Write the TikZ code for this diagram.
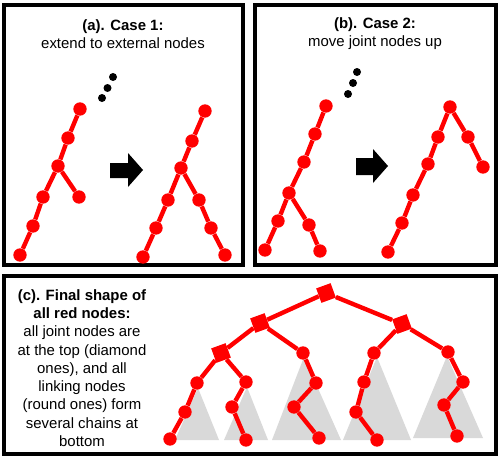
\documentclass[tikz,border=0pt]{standalone}
\usepackage{fontspec}
\setmainfont{Liberation Sans}
\begin{document}
\begin{tikzpicture}[x=0.75pt,y=-0.75pt,
  rn/.style={circle,fill=red,inner sep=0pt,minimum size=10pt},
  jn/.style={rectangle,fill=red,inner sep=0pt,minimum size=11.5pt,rotate=20},
  dotn/.style={circle,fill=black,inner sep=0pt,minimum size=6pt},
  ed/.style={red,line width=3.3pt},
  panel/.style={draw=black,line width=2.3pt},
  tri/.style={fill=black!15,draw=none},
  blk/.style={fill=black,draw=none},
  lab/.style={align=center,font=\fontsize{11.2pt}{13.7pt}\selectfont,inner sep=0pt}]
\useasboundingbox (0,0) rectangle (498,460);
\fill[white] (0,0) rectangle (498,460);
% panels
\draw[panel] (4,5) rectangle (243,265);
\draw[panel] (255,5) rectangle (496,265);
\draw[panel] (4,276) rectangle (496,454);
% titles
\node[lab] (ta) at (123,34) {\textbf{(a). Case 1:}\\extend to external nodes};
\node[lab] (tb) at (375,34) {\textbf{(b). Case 2:}\\move joint nodes up};
\node[lab] (tc) at (82,368) {\textbf{(c). Final shape of}\\\textbf{all red nodes:}\\all joint nodes are\\at the top (diamond\\ones), and all\\linking nodes\\(round ones) form\\several chains at\\bottom};
% dots
\node[dotn] (da1) at (113,77) {};
\node[dotn] (da2) at (107.5,88) {};
\node[dotn] (da3) at (102,98) {};
\node[dotn] (db1) at (357,72) {};
\node[dotn] (db2) at (353,83) {};
\node[dotn] (db3) at (348,94) {};
% block arrows
\fill[blk] (110,163) -- (128,163) -- (128,153) -- (143,170) -- (128,187) -- (128,178) -- (110,178) -- cycle;
\fill[blk] (356,158) -- (373,158) -- (373,149) -- (388,166) -- (373,183) -- (373,175) -- (356,175) -- cycle;
% triangles in panel c
\fill[tri] (198,388) -- (219,440) -- (175,440) -- cycle;
\fill[tri] (247,387) -- (268,440) -- (224,440) -- cycle;
\fill[tri] (304,357) -- (341,440) -- (272,440) -- cycle;
\fill[tri] (377,357) -- (411,440) -- (343,440) -- cycle;
\fill[tri] (447,356) -- (483,438) -- (413,438) -- cycle;
% panel a left tree
\node[rn] (a1) at (80,109) {};
\node[rn] (a2) at (68,138) {};
\node[rn] (a3) at (58,166) {};
\node[rn] (a4) at (43,197) {};
\node[rn] (a5) at (33,226) {};
\node[rn] (a6) at (20,255) {};
\node[rn] (a7) at (79,197) {};
\draw[ed] (a1) -- (a2) -- (a3) -- (a4) -- (a5) -- (a6);
\draw[ed] (a3) -- (a7);
% panel a right tree
\node[rn] (b1) at (205,111) {};
\node[rn] (b2) at (192,141) {};
\node[rn] (b3) at (181,168) {};
\node[rn] (b4) at (168,200) {};
\node[rn] (b5) at (156,228) {};
\node[rn] (b6) at (143,257) {};
\node[rn] (b7) at (199,200) {};
\node[rn] (b8) at (211,228) {};
\node[rn] (b9) at (225,255) {};
\draw[ed] (b1) -- (b2) -- (b3) -- (b4) -- (b5) -- (b6);
\draw[ed] (b3) -- (b7) -- (b8) -- (b9);
% panel b left tree
\node[rn] (c1) at (326,106) {};
\node[rn] (c2) at (315,134) {};
\node[rn] (c3) at (304,162) {};
\node[rn] (c4) at (289,193) {};
\node[rn] (c5) at (278,221) {};
\node[rn] (c6) at (265,250) {};
\node[rn] (c7) at (309,225) {};
\node[rn] (c8) at (320,251) {};
\draw[ed] (c1) -- (c2) -- (c3) -- (c4) -- (c5) -- (c6);
\draw[ed] (c4) -- (c7) -- (c8);
% panel b right tree
\node[rn] (d1) at (450,107) {};
\node[rn] (d2) at (438,137) {};
\node[rn] (d3) at (428,164) {};
\node[rn] (d4) at (413,195) {};
\node[rn] (d5) at (402,223) {};
\node[rn] (d6) at (388,252) {};
\node[rn] (d7) at (468,137) {};
\node[rn] (d8) at (483,167) {};
\draw[ed] (d1) -- (d2) -- (d3) -- (d4) -- (d5) -- (d6);
\draw[ed] (d1) -- (d7) -- (d8);
% panel c tree
\node[jn] (r) at (326,293) {};
\node[jn] (l1) at (260,323) {};
\node[jn] (r1) at (402,324) {};
\node[jn] (l2) at (221,353) {};
\node[rn] (m1) at (303,353) {};
\node[rn] (p1) at (197,383) {};
\node[rn] (p2) at (185,412) {};
\node[rn] (p3) at (170,439) {};
\node[rn] (q1) at (246,382) {};
\node[rn] (q2) at (232,407) {};
\node[rn] (q3) at (246,440) {};
\node[rn] (m2) at (316,383) {};
\node[rn] (m3) at (294,407) {};
\node[rn] (m4) at (319,438) {};
\node[rn] (s1) at (374,353) {};
\node[rn] (s2) at (364,382) {};
\node[rn] (s3) at (356,412) {};
\node[rn] (s4) at (377,440) {};
\node[rn] (t1) at (448,352) {};
\node[rn] (t2) at (463,382) {};
\node[rn] (t3) at (444,405) {};
\node[rn] (t4) at (457,436) {};
\draw[ed] (r) -- (l1) -- (l2) -- (p1) -- (p2) -- (p3);
\draw[ed] (l2) -- (q1) -- (q2) -- (q3);
\draw[ed] (l1) -- (m1) -- (m2) -- (m3) -- (m4);
\draw[ed] (r) -- (r1) -- (s1) -- (s2) -- (s3) -- (s4);
\draw[ed] (r1) -- (t1) -- (t2) -- (t3) -- (t4);
\end{tikzpicture}
\end{document}
